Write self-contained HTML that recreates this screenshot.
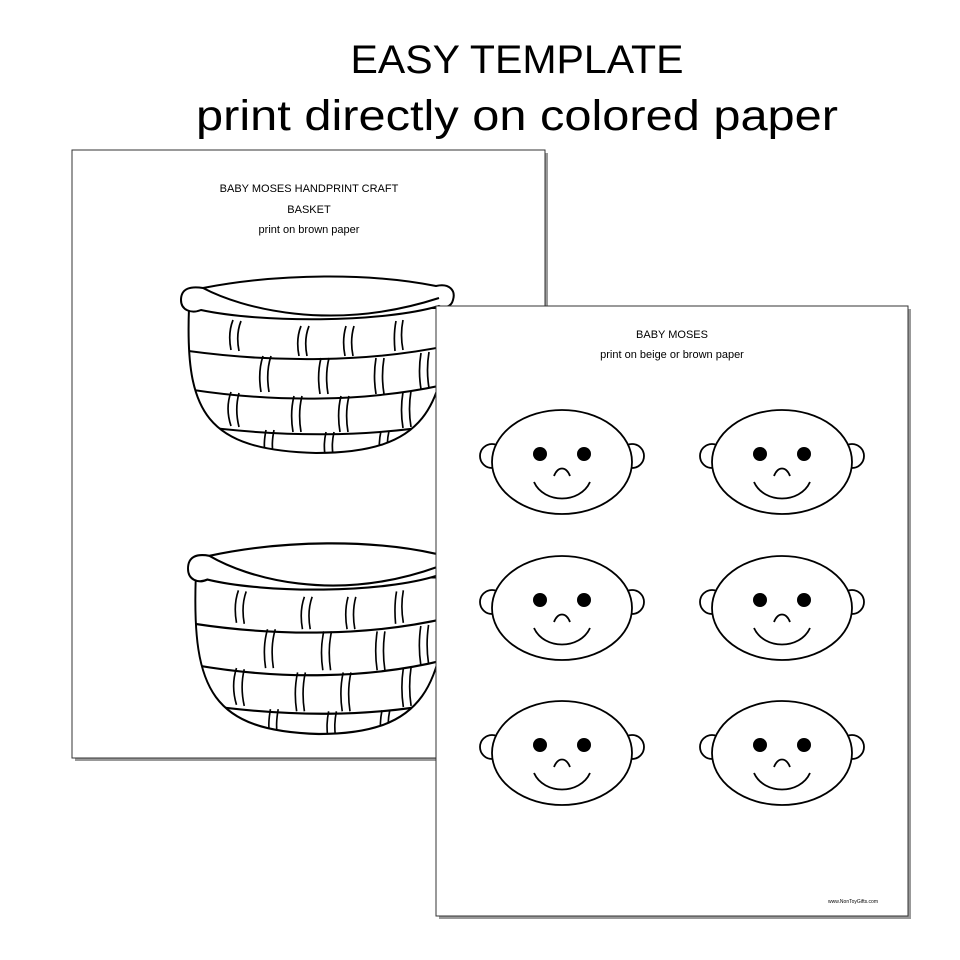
<!DOCTYPE html>
<html><head><style>html,body{margin:0;padding:0;background:#fff;}svg{display:block}</style></head>
<body>
<svg width="960" height="960" viewBox="0 0 960 960" xmlns="http://www.w3.org/2000/svg">
<defs>
<clipPath id="bc"><path d="M8,30 C4,135 25,172 135,175 C245,175 264,130 268,30 Z"/></clipPath>
<g id="basket" fill="none" stroke="#000" stroke-width="2">
  <path d="M8,30 C4,135 25,172 135,175 C245,175 264,130 268,30 Z" fill="#fff"/>
  <g clip-path="url(#bc)">
  <path d="M0,72 C90,85 190,85 275,66"/>
  <path d="M0,110 C90,125 190,125 275,104"/>
  <path d="M0,146 C100,160 190,160 275,144"/>
  <g stroke-width="1.7">
  <path d="M52,42 C48,52 48,62 50,72 M60,43 C56,53 56,63 58,73 M120,48 C116,58 116,68 118,78 M128,48 C124,58 124,68 126,78 M165,48 C162,58 162,68 164,78 M173,48 C170,58 170,68 172,78 M215,43 C213,53 213,63 214,73 M222,42 C220,52 220,62 222,72"/>
  <path d="M82,78 C78,90 78,102 80,114 M90,78 C86,90 86,102 88,114 M140,80 C137,92 137,104 139,116 M148,80 C145,92 145,104 147,116 M195,80 C193,92 193,104 195,116 M203,80 C201,92 201,104 203,116 M240,75 C238,87 238,99 240,111 M248,74 C246,86 246,98 248,110"/>
  <path d="M50,114 C46,125 46,136 50,148 M58,115 C55,126 55,137 58,149 M113,118 C110,130 110,142 112,154 M121,118 C118,130 118,142 120,154 M160,118 C157,130 157,142 159,154 M168,118 C165,130 165,142 167,154 M222,114 C220,126 220,138 222,150 M230,113 C228,125 228,137 230,149"/>
  <path d="M85,152 C83,162 83,168 84,178 M93,152 C91,162 91,168 92,178 M145,154 C143,163 143,169 144,178 M153,154 C151,163 151,169 152,178 M200,153 C198,162 198,168 199,178 M208,153 C206,162 206,168 207,178"/>
  </g>
  </g>
  <path d="M0,22 C0,10 10,8 22,10 C100,-5 190,-5 255,8 C268,5 275,12 272,22 C270,30 262,30 258,28 C200,45 80,45 20,32 C10,36 0,32 0,22 Z" fill="#fff"/>
  <path d="M22,10 C60,30 150,55 258,20"/>
</g>
<g id="face" fill="none" stroke="#000" stroke-width="1.8">
  <circle cx="-70" cy="-6" r="12" fill="#fff"/>
  <circle cx="70" cy="-6" r="12" fill="#fff"/>
  <ellipse cx="0" cy="0" rx="70" ry="52" fill="#fff"/>
  <circle cx="-22" cy="-8" r="7" fill="#000" stroke="none"/>
  <circle cx="22" cy="-8" r="7" fill="#000" stroke="none"/>
  <path d="M-8,14 C-4,4 4,4 8,14"/>
  <path d="M-28,20 C-18,42 18,42 28,20"/>
</g>
</defs>
<g font-family="Liberation Sans, sans-serif" fill="#000" text-anchor="middle">
<text x="517" y="73" font-size="40" textLength="333" lengthAdjust="spacingAndGlyphs">EASY TEMPLATE</text>
<text x="517" y="130" font-size="43" textLength="642" lengthAdjust="spacingAndGlyphs">print directly on colored paper</text>
</g>
<rect x="75" y="153" width="473" height="608" fill="#999"/>
<rect x="72" y="150" width="473" height="608" fill="#fff" stroke="#333" stroke-width="1"/>
<g font-family="Liberation Sans, sans-serif" font-size="11" text-anchor="middle">
<text x="309" y="192">BABY MOSES HANDPRINT CRAFT</text>
<text x="309" y="213">BASKET</text>
<text x="309" y="233">print on brown paper</text>
</g>
<use href="#basket" transform="translate(181,278)"/>
<use href="#basket" transform="translate(188,545) scale(0.97,1.08)"/>
<rect x="439" y="309" width="472" height="610" fill="#999"/>
<rect x="436" y="306" width="472" height="610" fill="#fff" stroke="#333" stroke-width="1"/>
<g font-family="Liberation Sans, sans-serif" font-size="11" text-anchor="middle">
<text x="672" y="338">BABY MOSES</text>
<text x="672" y="358">print on beige or brown paper</text>
<text x="853" y="903" font-size="5">www.NonToyGifts.com</text>
</g>
<use href="#face" transform="translate(562,462)"/>
<use href="#face" transform="translate(782,462)"/>
<use href="#face" transform="translate(562,608)"/>
<use href="#face" transform="translate(782,608)"/>
<use href="#face" transform="translate(562,753)"/>
<use href="#face" transform="translate(782,753)"/>
</svg>
</body></html>
